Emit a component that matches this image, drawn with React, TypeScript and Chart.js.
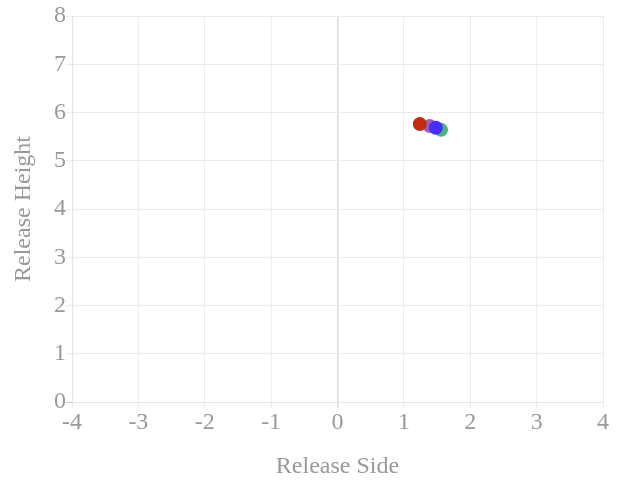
import React, { useEffect, useRef } from "react";
import { Chart, registerables } from "chart.js";

Chart.register(...registerables);

const pitchTypes = ["Changeup", "Sinker", "Four-Seam", "Slider"];
const releaseSide = [1.48, 1.24, 1.56, 1.39];
const releaseHeight = [5.685, 5.76, 5.64, 5.72];
const pointColors = ["rgb(72,45,255)", "rgb(195,45,15)", "rgba(50,175,105,0.9)", "rgba(130,55,175,0.8)"];
const xTicks = [-4, -3, -2, -1, 0, 1, 2, 3, 4];
const yTicks = [0, 1, 2, 3, 4, 5, 6, 7, 8];

export default function App() {
  const ref = useRef<HTMLCanvasElement>(null);
  useEffect(() => {
    if (!ref.current) return;
    const font = { family: "'Liberation Serif', serif", size: 24 };
    const chart = new Chart(ref.current, {
      type: "scatter",
      data: {
        datasets: pitchTypes.map((p, i) => ({
          label: p,
          data: [{ x: releaseSide[i], y: releaseHeight[i] }],
          backgroundColor: pointColors[i],
          borderColor: pointColors[i],
          borderWidth: 0,
          pointRadius: 7,
          order: i,
        })),
      },
      options: {
        animation: false,
        responsive: true,
        maintainAspectRatio: false,
        layout: { padding: { right: 18, top: 16 } },
        plugins: { legend: { display: false }, tooltip: { enabled: false } },
        scales: {
          x: {
            type: "linear",
            min: xTicks[0],
            max: xTicks[xTicks.length - 1],
            afterBuildTicks: (axis: any) => { axis.ticks = xTicks.map((v) => ({ value: v })); },
            ticks: { color: "#999", font, padding: 0 },
            grid: {
              color: (ctx: any) => (ctx.tick && ctx.tick.value === 0 ? "#dcdcdc" : "#ebebeb"),
              lineWidth: (ctx: any) => (ctx.tick && ctx.tick.value === 0 ? 1.5 : 1),
              tickLength: 6,
            },
            border: { color: "#e5e5e5" },
            title: { display: true, text: "Release Side", color: "#999", font, padding: { top: 15.4, bottom: 0 } },
          },
          y: {
            type: "linear",
            min: yTicks[0],
            max: yTicks[yTicks.length - 1],
            afterBuildTicks: (axis: any) => { axis.ticks = yTicks.map((v) => ({ value: v })); },
            ticks: { color: "#999", font, padding: 0 },
            grid: {
              color: (ctx: any) => (ctx.tick && ctx.tick.value === 0 ? "#c8c8c8" : "#ebebeb"),
              tickLength: 6,
            },
            border: { color: "#e5e5e5" },
            title: { display: true, text: "Release Height", color: "#999", font, padding: { top: 9.6, bottom: 15.6 } },
          },
        },
      },
    });
    return () => chart.destroy();
  }, []);
  return (
    <div style={{ position: "absolute", left: 0, top: 0, width: 621, height: 481 }}>
      <canvas ref={ref} />
    </div>
  );
}
